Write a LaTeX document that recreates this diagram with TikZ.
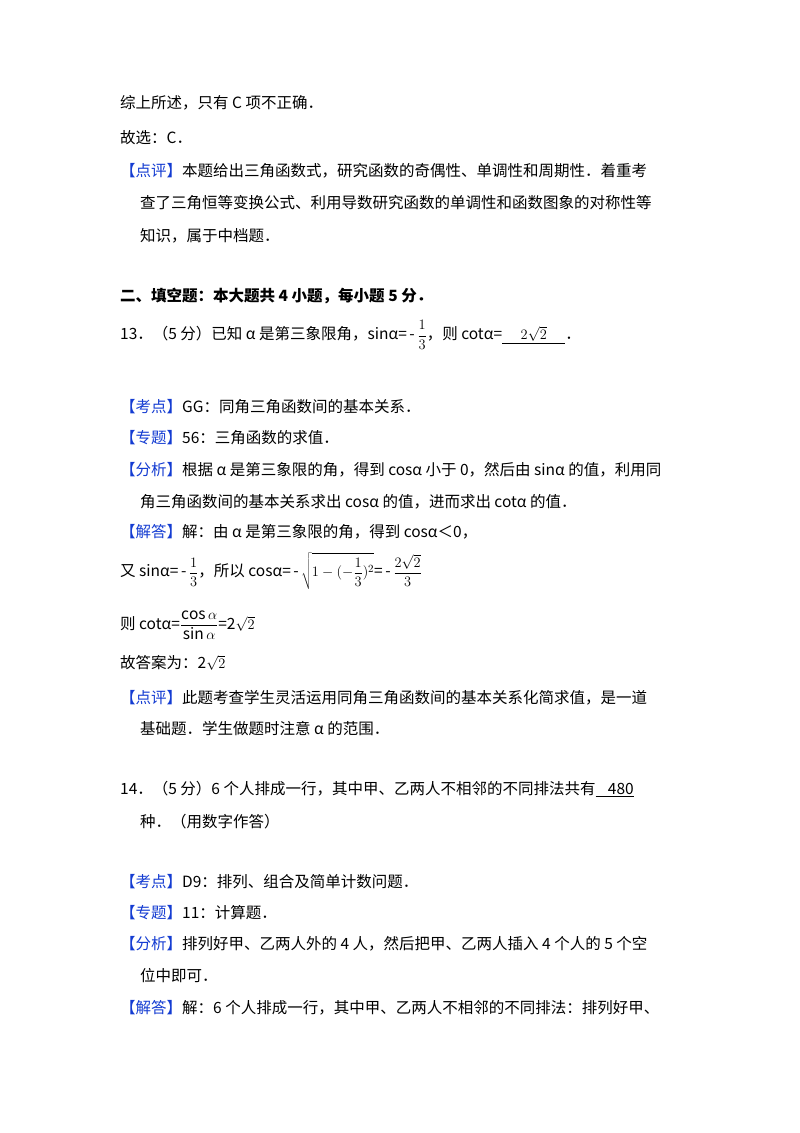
\documentclass[tikz,border=0pt]{standalone}
\usepackage{fontspec}
\setmainfont{Noto Sans CJK SC}
\definecolor{kb}{RGB}{20,60,210}
\newcommand{\kt}[1]{\textcolor{kb}{【#1】}}
\newcommand{\ul}[1]{\underline{#1}}
\begin{document}
\begin{tikzpicture}[x=1pt,y=-1pt,
  ln/.style={anchor=west,inner sep=0pt,font=\fontsize{15.5}{18}\selectfont}]
\useasboundingbox (0,0) rectangle (800,1133);
\fill[white] (0,0) rectangle (800,1133);
\node[ln] (l1) at (120,103) {综上所述，只有 C 项不正确．};
\node[ln] (l2) at (120,138) {故选：C．};
\node[ln] (l3) at (120,171) {\kt{点评}本题给出三角函数式，研究函数的奇偶性、单调性和周期性．着重考};
\node[ln] (l4) at (140,203) {查了三角恒等变换公式、利用导数研究函数的单调性和函数图象的对称性等};
\node[ln] (l5) at (140,236) {知识，属于中档题．};
\node[ln] (l6) at (120,296) {\bfseries 二、填空题：本大题共 4 小题，每小题 5 分．};
\node[ln] (l7) at (120,335) {13．（5 分）已知 α 是第三象限角，sinα=\,-\,$\displaystyle\frac{1}{3}$，则 cotα=\ul{\hspace{1.2em}$2\sqrt{2}$\hspace{1.2em}}．};
\node[ln] (l8) at (120,407) {\kt{考点}GG：同角三角函数间的基本关系．};
\node[ln] (l9) at (120,438) {\kt{专题}56：三角函数的求值．};
\node[ln] (l10) at (120,470) {\kt{分析}根据 α 是第三象限的角，得到 cosα 小于 0，然后由 sinα 的值，利用同};
\node[ln] (l11) at (140,502) {角三角函数间的基本关系求出 cosα 的值，进而求出 cotα 的值．};
\node[ln] (l12) at (120,532) {\kt{解答}解：由 α 是第三象限的角，得到 cosα＜0，};
\node[ln] (l13) at (120,571) {又 sinα=\,-\,$\displaystyle\frac{1}{3}$，所以 cosα=\,-\,$\displaystyle\sqrt{1-(-\frac{1}{3})^{2}}$=\,-\,$\displaystyle\frac{2\sqrt{2}}{3}$};
\node[ln] (l14) at (120,625) {则 cotα=$\displaystyle\frac{\cos\alpha}{\sin\alpha}$=2$\sqrt{2}$};
\node[ln] (l15) at (120,663) {故答案为：2$\sqrt{2}$};
\node[ln] (l16) at (120,698) {\kt{点评}此题考查学生灵活运用同角三角函数间的基本关系化简求值，是一道};
\node[ln] (l17) at (140,729) {基础题．学生做题时注意 α 的范围．};
\node[ln] (l18) at (120,789) {14．（5 分）6 个人排成一行，其中甲、乙两人不相邻的不同排法共有\ul{\hspace{0.8em}480}};
\node[ln] (l19) at (140,822) {种．（用数字作答）};
\node[ln] (l20) at (120,882) {\kt{考点}D9：排列、组合及简单计数问题．};
\node[ln] (l21) at (120,913) {\kt{专题}11：计算题．};
\node[ln] (l22) at (120,944) {\kt{分析}排列好甲、乙两人外的 4 人，然后把甲、乙两人插入 4 个人的 5 个空};
\node[ln] (l23) at (140,976) {位中即可．};
\node[ln] (l24) at (120,1008) {\kt{解答}解：6 个人排成一行，其中甲、乙两人不相邻的不同排法：排列好甲、};
\end{tikzpicture}
\end{document}
